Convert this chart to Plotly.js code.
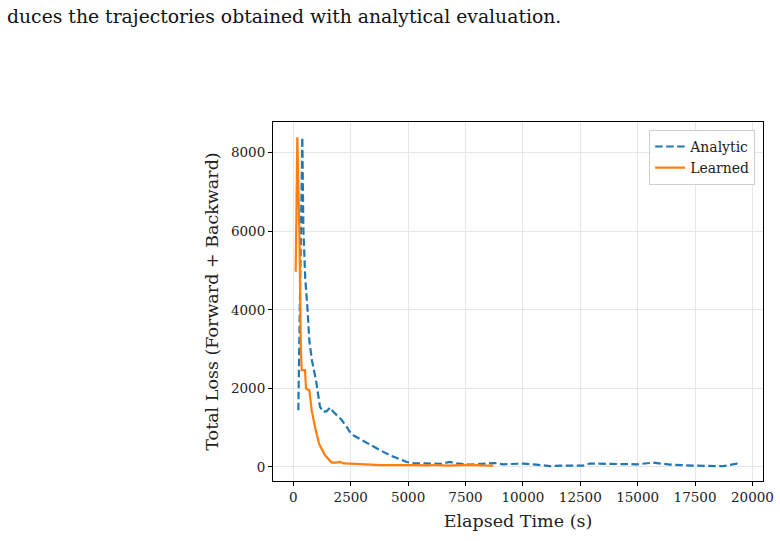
<!DOCTYPE html>
<html>
<head>
<meta charset="utf-8">
<script src="https://cdn.plot.ly/plotly-3.0.1.min.js"></script>
<style>html,body{margin:0;padding:0;background:#fff;}#chart{width:780px;height:541px;}</style>
</head>
<body>
<div id="chart"></div>
<script>
const analyticTime = [218, 392, 440, 520, 620, 700, 815, 871, 990, 1163, 1307, 1450, 1599, 1750, 1890, 2100, 2326, 2450, 2613, 3000, 3340, 3800, 4211, 4600, 4939, 5229, 5600, 6000, 6400, 6825, 7100, 7700, 8200, 8785, 9146, 10017, 10600, 11180, 11760, 12631, 12922, 13500, 14085, 14957, 15680, 16407, 17422, 18293, 18728, 19312, 19457];
const analyticLoss = [1444, 8390, 6000, 4800, 4000, 3200, 2700, 2547, 2200, 1528, 1401, 1420, 1513, 1400, 1317, 1200, 1019, 900, 807, 680, 553, 420, 298, 200, 127, 100, 95, 90, 80, 127, 90, 60, 70, 100, 68, 87, 60, 20, 36, 36, 87, 80, 68, 68, 110, 60, 36, 36, 20, 87, 40];
const learnedTime = [104, 174, 261, 292, 330, 365, 510, 553, 697, 800, 945, 1132, 1380, 1672, 1850, 2034, 2200, 2470, 2900, 3340, 3800, 4300, 4790, 5300, 5800, 6240, 6700, 7200, 7690, 8200, 8710];
const learnedLoss = [4970, 8390, 6030, 4245, 3000, 2463, 2463, 1996, 1953, 1444, 1019, 578, 298, 112, 110, 127, 90, 87, 70, 60, 45, 50, 40, 45, 40, 50, 35, 50, 55, 40, 35];
const xTicks = [0, 2500, 5000, 7500, 10000, 12500, 15000, 17500, 20000];
const yTicks = [0, 2000, 4000, 6000, 8000];

const FONT = 'DejaVu Serif, Liberation Serif, serif';

const traces = [
  {x: analyticTime, y: analyticLoss, name: 'Analytic', mode: 'lines', type: 'scatter',
   line: {color: '#1f77b4', width: 2.2, dash: '7.5px,3.5px'}},
  {x: learnedTime, y: learnedLoss, name: 'Learned', mode: 'lines', type: 'scatter',
   line: {color: '#ff7f0e', width: 2.2}}
];

const axisCommon = {
  showline: true, mirror: true, linecolor: '#000', linewidth: 1,
  ticks: 'outside', ticklen: 4, tickcolor: '#000', tickwidth: 1,
  showgrid: true, gridcolor: '#e6e6e6', gridwidth: 1, zeroline: false,
  tickfont: {family: FONT, size: 13.5, color: '#222'}
};

const layout = {
  width: 780, height: 541,
  margin: {l: 273, r: 17, t: 122, b: 60},
  paper_bgcolor: '#fff', plot_bgcolor: '#fff',
  font: {family: FONT, color: '#222'},
  showlegend: true,
  legend: {
    x: 0.984, y: 0.978, xanchor: 'right', yanchor: 'top',
    bgcolor: 'rgba(255,255,255,0.9)', bordercolor: '#d0d0d0', borderwidth: 1,
    font: {family: FONT, size: 14, color: '#222'}, tracegroupgap: 2
  },
  xaxis: Object.assign({}, axisCommon, {
    range: [-885, 20460], tickvals: xTicks, ticktext: xTicks.map(String),
    title: {text: 'Elapsed Time (s)', font: {family: FONT, size: 17.5, color: '#222'}, standoff: 10}
  }),
  yaxis: Object.assign({}, axisCommon, {
    range: [-357, 8780], tickvals: yTicks, ticktext: yTicks.map(String),
    title: {text: 'Total Loss (Forward + Backward)', font: {family: FONT, size: 17.5, color: '#222'}, standoff: 7}
  }),
  annotations: [{
    text: 'duces the trajectories obtained with analytical evaluation.',
    xref: 'paper', yref: 'paper', x: -268/490, y: (481 - 16) / 359,
    xanchor: 'left', yanchor: 'middle', showarrow: false,
    font: {family: FONT, size: 18.8, color: '#111'}
  }]
};

Plotly.newPlot('chart', traces, layout, {displayModeBar: false, staticPlot: true});
</script>
</body>
</html>
